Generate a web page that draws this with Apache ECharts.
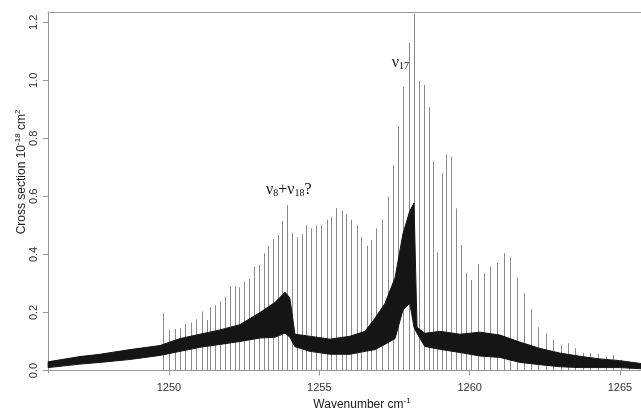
<!DOCTYPE html>
<html>
<head>
<meta charset="utf-8">
<script src="https://cdn.jsdelivr.net/npm/echarts@6/dist/echarts.min.js"></script>
<style>html,body{margin:0;padding:0;background:#fff}#c{width:641px;height:409px}</style>
</head>
<body>
<div id="c"></div>
<script>
// ---- data ----
const xTicks = [1250, 1255, 1260, 1265];
const yTicks = [0.0, 0.2, 0.4, 0.6, 0.8, 1.0, 1.2];

// sharp rotational lines: wavenumber and peak cross section
const peakX = [1249.81,1250.01,1250.19,1250.37,1250.54,1250.72,1250.91,1251.09,1251.25,1251.37,1251.53,1251.70,1251.86,1252.03,1252.19,1252.34,1252.50,1252.66,1252.83,1252.98,1253.15,1253.30,1253.46,1253.61,1253.77,1253.92,1254.08,1254.25,
  1254.41,1254.57,1254.74,1254.90,1255.07,1255.24,1255.40,1255.57,1255.74,1255.90,1256.07,1256.24,1256.40,1256.57,1256.73,1256.90,1257.08,
  1257.29,1257.46,1257.63,1257.79,1257.97,1258.14,1258.30,1258.47,1258.64,1258.77,1258.92,1259.07,1259.22,1259.39,1259.54,1259.71,1259.87,1260.03,1260.27,1260.48,1260.69,1260.91,1261.13,1261.35,1261.57,1261.81,1262.03,1262.28,1262.53,1262.78,1263.03,1263.26,1263.51,1263.76,1264.02,1264.28,1264.52,1264.78,1265.03,1265.29];
const peakY = [0.197,0.140,0.143,0.146,0.160,0.165,0.176,0.203,0.174,0.218,0.225,0.237,0.254,0.289,0.291,0.287,0.306,0.315,0.358,0.364,0.404,0.429,0.453,0.467,0.516,0.570,0.475,0.459,
  0.470,0.500,0.490,0.500,0.500,0.520,0.530,0.560,0.550,0.540,0.520,0.500,0.460,0.430,0.450,0.490,0.520,
  0.599,0.708,0.842,0.978,1.130,1.230,0.998,0.984,0.907,0.720,0.407,0.680,0.745,0.737,0.559,0.432,0.337,0.312,0.367,0.335,0.358,0.371,0.404,0.390,0.320,0.266,0.211,0.149,0.128,0.105,0.088,0.094,0.077,0.061,0.059,0.057,0.048,0.053,0.036,0.030];

// dense black band of the spectrum: lower and upper envelope
const bandX    = [1245.98,1247.04,1247.71,1248.70,1249.70,1250.37,1251.03,1251.70,1252.36,1253.03,1253.53,1253.86,1254.02,1254.19,1254.69,1255.35,1256.02,1256.52,1256.85,1257.18,1257.52,1257.78,1258.01,1258.15,1258.25,1258.51,1259.01,1259.68,1260.34,1261.01,1261.67,1262.34,1263.00,1263.67,1264.33,1264.99,1265.70];
const bandLow  = [0.010,0.022,0.028,0.038,0.052,0.066,0.080,0.090,0.100,0.112,0.115,0.129,0.115,0.082,0.066,0.056,0.056,0.066,0.072,0.090,0.110,0.208,0.232,0.149,0.128,0.083,0.073,0.062,0.050,0.045,0.028,0.020,0.013,0.010,0.010,0.010,0.006];
const bandHigh = [0.030,0.048,0.056,0.072,0.086,0.110,0.125,0.140,0.158,0.200,0.235,0.270,0.250,0.125,0.118,0.108,0.118,0.135,0.180,0.230,0.320,0.470,0.550,0.577,0.149,0.128,0.135,0.125,0.132,0.122,0.098,0.076,0.060,0.049,0.040,0.034,0.024];

const chart = echarts.init(document.getElementById('c'), null, {renderer: 'canvas'});
const axisGray = '#9a9a9a';
const labelColor = '#333';
const X_MIN = 1245.976, X_MAX = 1265.70, Y_MIN = -0.0086, Y_MAX = 1.2354;

chart.setOption({
  animation: false,
  backgroundColor: '#fff',
  grid: {left: 48, top: 12, bottom: 36, right: 0, show: false},
  xAxis: [{
    type: 'value', min: X_MIN, max: X_MAX, position: 'bottom',
    axisLine: {show: true, lineStyle: {color: axisGray, width: 1}},
    splitLine: {show: false},
    axisTick: {show: true, length: 5, lineStyle: {color: axisGray}, customValues: xTicks},
    axisLabel: {customValues: xTicks, color: labelColor, fontFamily: 'Liberation Sans, Arial', fontSize: 11, margin: 9,
      formatter: v => String(v)}
  }, {
    type: 'value', min: X_MIN, max: X_MAX, position: 'top',
    axisLine: {show: true, lineStyle: {color: axisGray, width: 1}},
    splitLine: {show: false}, axisTick: {show: false}, axisLabel: {show: false}
  }],
  yAxis: {
    type: 'value', min: Y_MIN, max: Y_MAX,
    axisLine: {show: true, lineStyle: {color: axisGray, width: 1}},
    splitLine: {show: false},
    axisTick: {show: true, length: 5, lineStyle: {color: axisGray}, customValues: yTicks},
    axisLabel: {customValues: yTicks, rotate: 90, color: labelColor, fontFamily: 'Liberation Sans, Arial', fontSize: 11, margin: 9,
      formatter: v => v.toFixed(1)}
  },
  series: [
    {
      type: 'custom', name: 'lines', z: 2,
      data: peakX.map((x, i) => [x, peakY[i]]),
      renderItem: (params, api) => {
        const p0 = api.coord([api.value(0), 0]);
        const p1 = api.coord([api.value(0), api.value(1)]);
        const x = Math.round(p0[0]) + 0.5;
        return {type: 'line', shape: {x1: x, y1: p0[1], x2: x, y2: p1[1]}, style: {stroke: '#8a8a8a', lineWidth: 1}};
      }
    },
    {
      type: 'custom', name: 'band', z: 3,
      data: [0],
      renderItem: (params, api) => {
        const pts = [];
        for (let i = 0; i < bandX.length; i++) pts.push(api.coord([bandX[i], bandHigh[i]]));
        for (let i = bandX.length - 1; i >= 0; i--) pts.push(api.coord([bandX[i], bandLow[i]]));
        return {type: 'polygon', shape: {points: pts}, style: {fill: '#151515', stroke: '#151515', lineWidth: 1}};
      }
    }
  ]
});

function addText() {
  const a = chart.convertToPixel({gridIndex: 0}, [1257.41, 1.032]);
  const b = chart.convertToPixel({gridIndex: 0}, [1253.23, 0.594]);
  const serif = 'Liberation Serif, Times New Roman, serif';
  const rich = {v: {fontFamily: serif, fontSize: 16, fill: '#111', lineHeight: 16, verticalAlign: 'bottom'},
                s: {fontFamily: serif, fontSize: 10, fill: '#111', lineHeight: 12, verticalAlign: 'bottom'}};
  const sans = 'Liberation Sans, Arial';
  const rich2 = {t: {fontFamily: sans, fontSize: 12, fill: '#222', lineHeight: 14, verticalAlign: 'bottom'},
                 u: {fontFamily: sans, fontSize: 8, fill: '#222', lineHeight: 14, verticalAlign: 'top'}};
  chart.setOption({
    graphic: [
      {type: 'text', x: a[0], y: a[1], z: 10, style: {text: '{v|ν}{s|17}', align: 'left', verticalAlign: 'bottom', rich: rich}},
      {type: 'text', x: b[0], y: b[1], z: 10, style: {text: '{v|ν}{s|8}{v|+ν}{s|18}{v|?}', align: 'left', verticalAlign: 'bottom', rich: rich}},
      {type: 'text', x: 362, y: 404, z: 10, style: {text: '{t|Wavenumber cm}{u|-1}', align: 'center', verticalAlign: 'middle', rich: rich2}},
      {type: 'text', x: 21, y: 172, rotation: Math.PI / 2, z: 10, style: {text: '{t|Cross section 10}{u|-18}{t| cm}{u|2}', align: 'center', verticalAlign: 'middle', rich: rich2}}
    ]
  });
}
addText();
</script>
</body>
</html>
